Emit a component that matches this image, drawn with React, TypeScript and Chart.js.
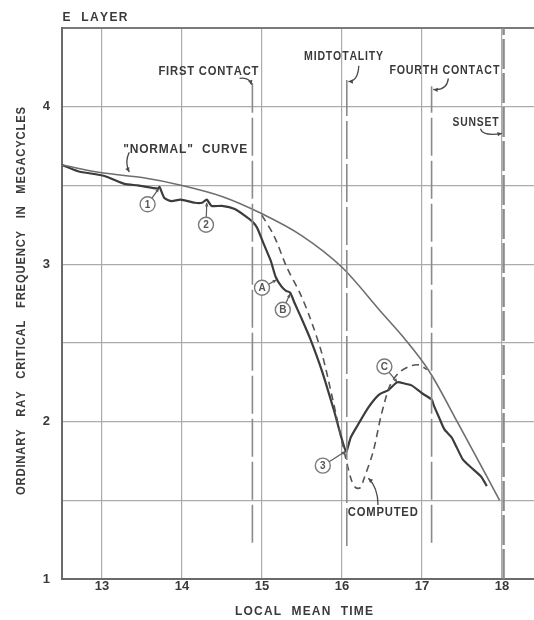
import React, { useEffect, useRef } from 'react';
import { Chart, registerables } from 'chart.js';
Chart.register(...registerables);

// ---- data (local mean time in hours, frequency in megacycles) ----
const normalTime = [12.5, 13, 13.5, 14, 14.5, 15, 15.5, 16, 16.5, 16.76, 17.09, 17.45, 17.97];
const normalFreq = [3.63, 3.58, 3.55, 3.5, 3.43, 3.32, 3.18, 2.98, 2.69, 2.54, 2.32, 1.99, 1.5];

const observedTime = [12.5, 12.7, 13.03, 13.28, 13.45, 13.7, 13.72, 13.78, 13.87, 13.98, 14.16, 14.25, 14.31, 14.37, 14.5, 14.66, 14.78, 14.88, 14.94, 15.02, 15.11, 15.17, 15.24, 15.3, 15.35, 15.41, 15.49, 15.6, 15.75, 15.9, 16.05, 16.11, 16.2, 16.33, 16.46, 16.58, 16.69, 16.79, 16.87, 17.0, 17.12, 17.15, 17.21, 17.28, 17.37, 17.43, 17.51, 17.61, 17.74, 17.81];
const observedFreq = [3.63, 3.59, 3.56, 3.51, 3.5, 3.48, 3.49, 3.42, 3.4, 3.41, 3.39, 3.39, 3.41, 3.37, 3.37, 3.35, 3.31, 3.27, 3.23, 3.13, 3.02, 2.92, 2.86, 2.83, 2.82, 2.75, 2.66, 2.53, 2.32, 2.07, 1.81, 1.9, 1.98, 2.09, 2.17, 2.2, 2.25, 2.24, 2.23, 2.18, 2.14, 2.1, 2.03, 1.95, 1.9, 1.84, 1.76, 1.71, 1.65, 1.59];

const computedTime = [15.0, 15.15, 15.31, 15.48, 15.6, 15.75, 15.88, 16.01, 16.11, 16.17, 16.23, 16.27, 16.39, 16.49, 16.6, 16.71, 16.84, 16.96, 17.06];
const computedFreq = [3.31, 3.18, 2.98, 2.81, 2.66, 2.43, 2.15, 1.85, 1.64, 1.58, 1.58, 1.63, 1.81, 2.04, 2.23, 2.31, 2.35, 2.36, 2.33];

const eventNames = ['FIRST CONTACT', 'MIDTOTALITY', 'FOURTH CONTACT', 'SUNSET'];
const eventTime = [14.88, 16.06, 17.12, 18.02];
const eventTop = [4.15, 4.17, 4.13, 4.5];
const eventBottom = [1.23, 1.21, 1.23, 1.0];

const hourTicks = [13, 14, 15, 16, 17, 18];
const freqLabels = [1, 2, 3, 4];

const markerLabels = ['1', '2', 'A', 'B', '3', 'C'];
const markerTime = [13.57, 14.3, 15.0, 15.26, 15.76, 16.53];
const markerFreq = [3.38, 3.25, 2.85, 2.71, 1.72, 2.35];
const markerTargetTime = [13.71, 14.31, 15.18, 15.35, 16.04, 16.69];
const markerTargetFreq = [3.48, 3.39, 2.9, 2.81, 1.81, 2.25];

const INK = '#3a3a3a';
const FONT = "bold 12px 'Liberation Sans', Arial, sans-serif";

// draws text stretched/compressed to a given width, keeping a minimum letter gap
function spacedText(ctx: CanvasRenderingContext2D, text: string, cx: number, cy: number, width: number, font = FONT, color = INK) {
  ctx.save();
  ctx.font = font;
  ctx.fillStyle = color;
  ctx.textBaseline = 'middle';
  ctx.textAlign = 'left';
  const chars = Array.from(text);
  const ws = chars.map((c) => ctx.measureText(c).width);
  const total = ws.reduce((a, b) => a + b, 0);
  const n = chars.length;
  const minGap = 0.8;
  let sx = 1;
  if (total + minGap * (n - 1) > width) sx = (width - minGap * (n - 1)) / total;
  const gap = n > 1 ? (width - total * sx) / (n - 1) : 0;
  ctx.translate(cx - width / 2, cy);
  let xx = 0;
  chars.forEach((c, i) => {
    ctx.save();
    ctx.translate(xx, 0);
    ctx.scale(sx, 1);
    ctx.fillText(c, 0, 0);
    ctx.restore();
    xx += ws[i] * sx + gap;
  });
  ctx.restore();
}

function arrowHead(ctx: CanvasRenderingContext2D, fx: number, fy: number, tx: number, ty: number, size = 5) {
  const a = Math.atan2(ty - fy, tx - fx);
  ctx.beginPath();
  ctx.moveTo(tx, ty);
  ctx.lineTo(tx - size * Math.cos(a - 0.45), ty - size * Math.sin(a - 0.45));
  ctx.lineTo(tx - size * Math.cos(a + 0.45), ty - size * Math.sin(a + 0.45));
  ctx.closePath();
  ctx.fill();
}

const eventLabelPos = [
  { x: 14.33, y: 4.22, w: 100 },
  { x: 16.02, y: 4.32, w: 79 },
  { x: 17.28, y: 4.23, w: 110 },
  { x: 17.67, y: 3.9, w: 46 },
];
const leaders = [
  { s: [14.72, 4.18], c: [14.84, 4.19], e: [14.87, 4.14] },
  { s: [16.21, 4.26], c: [16.2, 4.16], e: [16.08, 4.16] },
  { s: [17.33, 4.18], c: [17.31, 4.1], e: [17.14, 4.11] },
  { s: [17.73, 3.86], c: [17.76, 3.81], e: [18.0, 3.83] },
  { s: [13.34, 3.71], c: [13.28, 3.65], e: [13.34, 3.585] },
  { s: [16.45, 1.47], c: [16.45, 1.58], e: [16.33, 1.64] },
];

const annotationPlugin = {
  id: 'annotations',
  afterDatasetsDraw(chart: any) {
    const { ctx, scales } = chart;
    const X = (v: number) => scales.x.getPixelForValue(v);
    const Y = (v: number) => scales.y.getPixelForValue(v);
    ctx.save();
    eventNames.forEach((n, i) => {
      const p = eventLabelPos[i];
      spacedText(ctx, n, X(p.x), Y(p.y), p.w);
    });
    spacedText(ctx, '"NORMAL"  CURVE', X(14.04), Y(3.73), 124);
    spacedText(ctx, 'COMPUTED', X(16.51), Y(1.42), 70);
    ctx.strokeStyle = '#4a4a4a';
    ctx.fillStyle = '#4a4a4a';
    ctx.lineWidth = 1.3;
    leaders.forEach((l) => {
      const sx = X(l.s[0]), sy = Y(l.s[1]);
      const cx = X(l.c[0]), cy = Y(l.c[1]);
      const ex = X(l.e[0]), ey = Y(l.e[1]);
      ctx.beginPath();
      ctx.moveTo(sx, sy);
      ctx.quadraticCurveTo(cx, cy, ex, ey);
      ctx.stroke();
      arrowHead(ctx, cx, cy, ex, ey, 5);
    });
    markerLabels.forEach((lab, i) => {
      const cx = X(markerTime[i]), cy = Y(markerFreq[i]);
      const tx = X(markerTargetTime[i]), ty = Y(markerTargetFreq[i]);
      const r = 7.5;
      const a = Math.atan2(ty - cy, tx - cx);
      ctx.strokeStyle = '#5a5a5a';
      ctx.fillStyle = '#5a5a5a';
      ctx.lineWidth = 1.2;
      ctx.beginPath();
      ctx.moveTo(cx + r * Math.cos(a), cy + r * Math.sin(a));
      ctx.lineTo(tx, ty);
      ctx.stroke();
      arrowHead(ctx, cx, cy, tx, ty, 4);
      ctx.beginPath();
      ctx.arc(cx, cy, r, 0, Math.PI * 2);
      ctx.fillStyle = '#ffffff';
      ctx.fill();
      ctx.strokeStyle = '#7a7a7a';
      ctx.lineWidth = 1.4;
      ctx.stroke();
      ctx.font = "bold 10px 'Liberation Sans', Arial, sans-serif";
      ctx.fillStyle = '#555';
      ctx.textAlign = 'center';
      ctx.textBaseline = 'middle';
      ctx.fillText(lab, cx, cy + 0.5);
    });
    const area = chart.chartArea;
    spacedText(ctx, 'E  LAYER', area.left + 33, 18, 65);
    spacedText(ctx, 'LOCAL  MEAN  TIME', area.left + 242, 612, 138);
    ctx.save();
    ctx.translate(22, area.top + 273);
    ctx.rotate(-Math.PI / 2);
    spacedText(ctx, 'ORDINARY   RAY   CRITICAL   FREQUENCY   IN   MEGACYCLES', 0, 0, 388);
    ctx.restore();
    ctx.restore();
  },
};

function pts(xs: number[], ys: number[]) {
  return xs.map((x, i) => ({ x, y: ys[i] }));
}

export default function App() {
  const ref = useRef<HTMLCanvasElement>(null);
  useEffect(() => {
    document.body.style.margin = '0';
    const eventSets = eventTime.map((t, i) => ({
      label: eventNames[i],
      data: [
        { x: t, y: eventBottom[i] },
        { x: t, y: eventTop[i] },
      ],
      showLine: true,
      borderColor: '#8a8a8a',
      borderWidth: i === 3 ? 2.4 : 1.6,
      borderDash: i === 3 ? [30, 4] : [38, 5],
      pointRadius: 0,
      tension: 0,
    }));
    const chart = new Chart(ref.current as HTMLCanvasElement, {
      type: 'scatter',
      data: {
        datasets: [
          ...eventSets,
          {
            label: 'Normal',
            data: pts(normalTime, normalFreq),
            showLine: true,
            borderColor: '#6e6e6e',
            borderWidth: 1.6,
            pointRadius: 0,
            cubicInterpolationMode: 'monotone',
          },
          {
            label: 'Computed',
            data: pts(computedTime, computedFreq),
            showLine: true,
            borderColor: '#555555',
            borderWidth: 1.6,
            borderDash: [7, 5],
            pointRadius: 0,
            tension: 0.3,
          },
          {
            label: 'Observed',
            data: pts(observedTime, observedFreq),
            showLine: true,
            borderColor: '#3c3c3c',
            borderWidth: 2.2,
            pointRadius: 0,
            tension: 0.2,
          },
        ] as any,
      },
      options: {
        responsive: false,
        animation: false,
        devicePixelRatio: 1,
        layout: { padding: { top: 28, left: 0, right: 0, bottom: 0 } },
        plugins: { legend: { display: false }, tooltip: { enabled: false }, title: { display: false } },
        scales: {
          x: {
            type: 'linear',
            min: 12.5,
            max: 18.4,
            afterBuildTicks: (s: any) => {
              s.ticks = hourTicks.map((v) => ({ value: v }));
            },
            afterFit: (s: any) => {
              s.height = 41;
            },
            ticks: {
              color: INK,
              font: { family: "'Liberation Sans', Arial, sans-serif", size: 13, weight: 'bold' },
              padding: 0,
              maxRotation: 0,
              callback: (v: any) => String(v),
            },
            grid: { color: '#ababab', lineWidth: 1.2, drawTicks: false },
            border: { display: true, color: '#6a6a6a', width: 2 },
          },
          y: {
            type: 'linear',
            min: 1,
            max: 4.5,
            afterFit: (s: any) => {
              s.width = 62;
            },
            ticks: {
              stepSize: 0.5,
              color: INK,
              font: { family: "'Liberation Sans', Arial, sans-serif", size: 13, weight: 'bold' },
              padding: 12,
              callback: (v: any) => (freqLabels.includes(v) ? String(v) : ''),
            },
            grid: {
              color: (c: any) => (c.tick && c.tick.value === 4.5 ? '#7a7a7a' : '#ababab'),
              lineWidth: (c: any) => (c.tick && c.tick.value === 4.5 ? 2 : 1.2),
              drawTicks: false,
            },
            border: { display: true, color: '#6a6a6a', width: 2 },
          },
        },
      } as any,
      plugins: [annotationPlugin],
    });
    return () => chart.destroy();
  }, []);
  return <canvas ref={ref} width={534} height={620} style={{ display: 'block' }} />;
}
